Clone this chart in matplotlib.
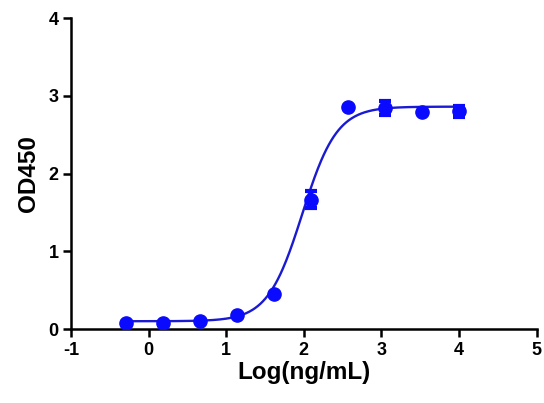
import matplotlib.pyplot as plt
import numpy as np

plt.rcParams['font.family'] = ['Liberation Sans', 'DejaVu Sans']
plt.rcParams['font.weight'] = 'bold'
plt.rcParams['axes.unicode_minus'] = False

# log concentration (3-fold dilutions) and mean OD450
log_conc = [-0.294, 0.183, 0.660, 1.137, 1.614, 2.091, 2.569, 3.046, 3.523, 4.0]
od450 = [0.08, 0.08, 0.10, 0.18, 0.45, 1.66, 2.86, 2.84, 2.79, 2.80]
od_err = [0.0, 0.0, 0.0, 0.0, 0.0, 0.11, 0.0, 0.09, 0.0, 0.07]

# 4PL fit parameters
bottom = 0.10
top = 2.86
log_ec50 = 1.98
hill = 1.95

fig = plt.figure(figsize=(5.44, 4.03), dpi=100)
ax = fig.add_axes([0.1305, 0.1836, 0.8561, 0.7717])

xs = np.linspace(min(log_conc), max(log_conc), 400)
fit = bottom + (top - bottom) / (1 + 10 ** ((log_ec50 - xs) * hill))
ax.plot(xs, fit, color='#1a1ad2', lw=1.7, zorder=2)

ax.errorbar(log_conc, od450, yerr=od_err, fmt='o', color='#0a0aff', ms=9.5,
            ecolor='#0a0aff', elinewidth=2.5, capsize=4.5, capthick=3, zorder=3)

ax.set_xlim(-1, 5)
ax.set_ylim(0, 4)
ax.set_xticks(range(-1, 6))
ax.set_yticks(range(0, 5))
for s in ['top', 'right']:
    ax.spines[s].set_visible(False)
for s in ['left', 'bottom']:
    ax.spines[s].set_linewidth(1.8)
ax.tick_params(width=1.8, length=6, labelsize=13, pad=3)
ax.set_xlabel('Log(ng/mL)', fontsize=17.5, fontweight='bold', labelpad=2)
ax.set_ylabel('OD450', fontsize=17.5, fontweight='bold', labelpad=6)

plt.savefig('out.png', dpi=100)
